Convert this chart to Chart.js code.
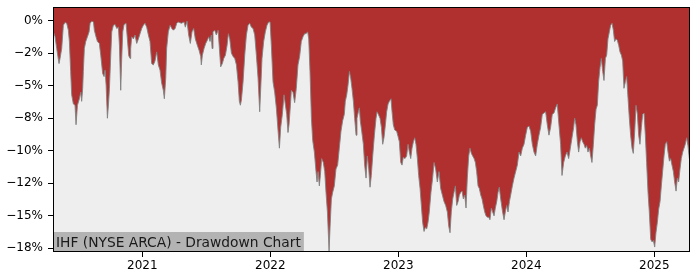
<!DOCTYPE html>
<html>
<head>
<meta charset="utf-8">
<script src="https://cdn.jsdelivr.net/npm/chart.js@4.4.0/dist/chart.umd.min.js"></script>
<style>
  body { margin: 0; background: #fff; }
  #wrap { width: 700px; height: 280px; }
</style>
</head>
<body>
<div id="wrap"><canvas id="canvas" width="700" height="280"></canvas></div>
<script>
// dates as decimal years, drawdown in %
var dates = [
  2020.302, 2020.310, 2020.318, 2020.331, 2020.349, 2020.357, 2020.370, 2020.383, 2020.396, 2020.409,
  2020.422, 2020.430, 2020.440, 2020.448, 2020.461, 2020.474, 2020.482, 2020.493, 2020.508, 2020.519,
  2020.526, 2020.534, 2020.539, 2020.547, 2020.558, 2020.571, 2020.584, 2020.592, 2020.605, 2020.618,
  2020.625, 2020.638, 2020.649, 2020.664, 2020.675, 2020.690, 2020.701, 2020.709, 2020.717, 2020.727,
  2020.735, 2020.743, 2020.753, 2020.761, 2020.774, 2020.787, 2020.800, 2020.813, 2020.821, 2020.831,
  2020.839, 2020.847, 2020.857, 2020.873, 2020.883, 2020.894, 2020.904, 2020.909, 2020.917, 2020.930,
  2020.943, 2020.956, 2020.969, 2020.982, 2020.995, 2021.008, 2021.021, 2021.034, 2021.047, 2021.060,
  2021.073, 2021.086, 2021.099, 2021.112, 2021.125, 2021.138, 2021.151, 2021.164, 2021.172, 2021.183,
  2021.190, 2021.203, 2021.217, 2021.230, 2021.243, 2021.256, 2021.269,
  2021.279, 2021.305, 2021.326, 2021.336, 2021.349, 2021.362, 2021.375, 2021.388, 2021.401, 2021.414,
  2021.430, 2021.443, 2021.456, 2021.461, 2021.469, 2021.482, 2021.495, 2021.508, 2021.519, 2021.529,
  2021.539, 2021.545, 2021.552, 2021.565, 2021.578, 2021.592, 2021.602, 2021.612, 2021.625, 2021.636,
  2021.649, 2021.662, 2021.672, 2021.683, 2021.696, 2021.709, 2021.722, 2021.735, 2021.748, 2021.758,
  2021.766, 2021.774, 2021.787, 2021.800, 2021.813, 2021.826, 2021.839, 2021.852, 2021.865, 2021.878,
  2021.891, 2021.904, 2021.917, 2021.925, 2021.935, 2021.948, 2021.961, 2021.974, 2021.987, 2021.998,
  2022.008, 2022.021, 2022.034, 2022.047, 2022.060, 2022.071, 2022.081, 2022.094, 2022.107, 2022.118,
  2022.128, 2022.138, 2022.146, 2022.157, 2022.164, 2022.177, 2022.190, 2022.203, 2022.216, 2022.229,
  2022.242, 2022.255, 2022.268,
  2022.279, 2022.292, 2022.300, 2022.310, 2022.321, 2022.331, 2022.344, 2022.357, 2022.365, 2022.373,
  2022.383, 2022.391, 2022.401, 2022.414, 2022.425, 2022.435, 2022.446, 2022.453, 2022.459, 2022.467,
  2022.477, 2022.487, 2022.500, 2022.513, 2022.526, 2022.539, 2022.552, 2022.565, 2022.578, 2022.586,
  2022.597, 2022.607, 2022.618, 2022.628, 2022.638, 2022.649, 2022.659, 2022.670, 2022.677, 2022.688,
  2022.696, 2022.703, 2022.714, 2022.727, 2022.737, 2022.748, 2022.758, 2022.769, 2022.779, 2022.789,
  2022.800, 2022.813, 2022.826, 2022.834, 2022.844, 2022.857, 2022.868, 2022.878, 2022.888, 2022.899,
  2022.909, 2022.920, 2022.930, 2022.943, 2022.951, 2022.961, 2022.972, 2022.987, 2022.998, 2023.008,
  2023.019, 2023.029, 2023.039, 2023.052, 2023.065, 2023.076, 2023.086, 2023.097, 2023.107, 2023.118,
  2023.128, 2023.138, 2023.149, 2023.159, 2023.170, 2023.180, 2023.190, 2023.201, 2023.211, 2023.222,
  2023.232, 2023.242, 2023.255, 2023.268,
  2023.279, 2023.292, 2023.305, 2023.318, 2023.331, 2023.344, 2023.357, 2023.370, 2023.383, 2023.394,
  2023.404, 2023.414, 2023.425, 2023.435, 2023.446, 2023.456, 2023.467, 2023.477, 2023.487, 2023.498,
  2023.508, 2023.519, 2023.529, 2023.539, 2023.550, 2023.560, 2023.571, 2023.581, 2023.592, 2023.602,
  2023.612, 2023.623, 2023.633, 2023.644, 2023.654, 2023.664, 2023.675, 2023.685, 2023.696, 2023.706,
  2023.716, 2023.727, 2023.737, 2023.748, 2023.758, 2023.769, 2023.779, 2023.789, 2023.800, 2023.813,
  2023.826, 2023.836, 2023.847, 2023.857, 2023.868, 2023.878, 2023.891, 2023.904, 2023.917, 2023.930,
  2023.943, 2023.956, 2023.969, 2023.982, 2023.995, 2024.008, 2024.021, 2024.034, 2024.047, 2024.060,
  2024.073, 2024.086, 2024.099, 2024.112, 2024.125, 2024.138, 2024.151, 2024.164, 2024.177, 2024.190,
  2024.203, 2024.216, 2024.229, 2024.242, 2024.255, 2024.268,
  2024.279, 2024.292, 2024.305, 2024.318, 2024.331, 2024.344, 2024.357, 2024.370, 2024.378, 2024.388,
  2024.399, 2024.409, 2024.420, 2024.430, 2024.440, 2024.451, 2024.461, 2024.472, 2024.482, 2024.493,
  2024.503, 2024.513, 2024.524, 2024.534, 2024.545, 2024.555, 2024.565, 2024.576, 2024.586, 2024.597,
  2024.607, 2024.618, 2024.628, 2024.638, 2024.649, 2024.659, 2024.670, 2024.680, 2024.690, 2024.701,
  2024.711, 2024.722, 2024.732, 2024.743, 2024.753, 2024.763, 2024.774, 2024.784, 2024.795, 2024.805,
  2024.815, 2024.826, 2024.836, 2024.847, 2024.857, 2024.868, 2024.878, 2024.888, 2024.899, 2024.909,
  2024.920, 2024.930, 2024.940, 2024.951, 2024.961, 2024.972, 2024.982, 2024.993, 2025.003, 2025.013,
  2025.024, 2025.034, 2025.045, 2025.055, 2025.065, 2025.076, 2025.086, 2025.097, 2025.107, 2025.118,
  2025.128, 2025.138, 2025.149, 2025.159, 2025.170, 2025.180, 2025.190, 2025.201, 2025.211, 2025.222,
  2025.232, 2025.242, 2025.253, 2025.263, 2025.274, 2025.279
];

var drawdown = [
  -0.9, -0.99, -1.24, -2.14, -3.3, -2.9, -2.14, -0.35, -0.14, -0.2,
  -0.73, -1.6, -3.9, -5.7, -6.4, -6.5, -8.0, -6.5, -6.0, -5.5,
  -6.2, -5.2, -3.9, -2.14, -1.6, -1.24, -0.86, -0.2, -0.04, -0.1,
  -0.73, -1.24, -1.6, -1.75, -2.65, -4.06, -4.3, -3.8, -4.96, -7.5,
  -6.5, -5.2, -2.7, -0.86, -0.35, -0.3, -0.6, -0.5, -1.9, -5.35,
  -2.9, -0.86, -0.3, -0.2, -1.4, -2.7, -2.9, -2.14, -1.24, -1.4,
  -1.1, -1.75, -1.4, -1.0, -0.6, -0.35, -0.2, -0.5, -1.1, -1.6,
  -3.3, -3.4, -3.1, -2.4, -3.4, -3.8, -4.8, -5.35, -6.0, -4.4,
  -2.14, -0.86, -0.35, -0.6, -0.73, -0.6, -0.2,
  -0.1, -0.2, -0.1, -0.5, -0.04, -1.1, -1.75, -0.86, -0.6, -1.4,
  -1.9, -2.27, -2.75, -3.4, -2.65, -2.14, -1.75, -1.5, -1.24, -1.6,
  -1.1, -2.14, -0.86, -0.73, -1.1, -0.73, -2.14, -3.55, -3.3, -2.9,
  -2.65, -1.9, -1.0, -1.4, -2.5, -2.75, -2.9, -3.4, -4.7, -6.2,
  -6.5, -6.1, -4.7, -2.65, -1.1, -0.35, -0.2, -0.5, -0.6, -1.1,
  -2.65, -4.4, -7.0, -5.2, -2.9, -1.6, -0.86, -0.35, -0.1, -0.1,
  -1.9, -4.7, -5.5, -6.7, -8.4, -9.8, -8.2, -7.2, -5.7, -6.5,
  -7.2, -8.6, -8.0, -6.5, -5.35, -5.5, -6.3, -5.2, -3.4, -2.75,
  -1.6, -1.24, -1.0,
  -1.0, -0.86, -1.4, -3.9, -7.5, -9.2, -10.1, -11.6, -12.4, -11.6,
  -12.7, -11.9, -10.6, -10.9, -11.6, -13.2, -14.7, -16.3, -17.7, -15.8,
  -13.7, -13.2, -12.7, -11.4, -11.1, -9.8, -8.5, -7.7, -7.2, -6.2,
  -5.7, -4.96, -3.9, -4.4, -5.2, -6.2, -7.5, -8.8, -7.5, -7.0,
  -6.7, -7.7, -8.5, -9.5, -11.1, -12.1, -10.4, -11.4, -12.8, -11.9,
  -10.4, -8.8, -7.5, -7.0, -7.2, -7.5, -8.2, -9.5, -9.0, -8.0,
  -7.0, -6.4, -6.2, -6.0, -7.0, -8.0, -8.4, -8.5, -8.9, -9.3,
  -10.9, -11.1, -10.5, -10.6, -10.4, -9.5, -10.1, -10.6, -9.8, -9.3,
  -9.0, -9.5, -10.6, -11.9, -12.9, -14.2, -15.5, -16.2, -15.9, -16.0,
  -15.5, -14.7, -13.2, -12.1,
  -10.9, -11.4, -12.4, -11.6, -12.9, -13.4, -13.9, -14.2, -14.7, -15.8,
  -16.3, -14.7, -13.7, -13.2, -12.7, -14.2, -13.9, -13.4, -13.2, -13.1,
  -13.7, -13.4, -14.4, -12.1, -10.4, -9.8, -10.2, -10.4, -10.6, -10.9,
  -11.6, -12.7, -12.9, -13.4, -13.7, -14.2, -14.7, -15.0, -15.1, -15.1,
  -15.3, -14.4, -14.7, -15.0, -14.4, -13.9, -13.2, -12.8, -13.7, -14.6,
  -15.3, -14.7, -14.2, -14.7, -13.9, -13.4, -12.7, -12.1, -11.6, -11.1,
  -10.1, -10.4, -9.8, -9.5, -8.8, -8.2, -8.1, -8.5, -9.5, -10.1,
  -10.4, -9.5, -8.8, -8.2, -7.2, -7.1, -7.0, -8.0, -8.8, -8.2,
  -7.2, -7.1, -6.7, -6.4, -8.0, -9.5,
  -11.9, -10.9, -10.4, -10.1, -10.6, -9.8, -9.0, -8.2, -7.5, -8.0,
  -9.3, -10.1, -9.3, -9.0, -9.3, -9.5, -9.8, -9.6, -10.1, -9.8,
  -10.4, -10.9, -9.5, -8.0, -6.8, -6.5, -4.7, -3.6, -2.9, -3.9,
  -4.6, -2.9, -2.65, -1.4, -0.86, -0.35, -0.2, -0.73, -1.6, -1.4,
  -1.5, -1.9, -2.4, -2.65, -3.1, -5.2, -4.7, -4.3, -6.0, -7.5,
  -8.8, -9.8, -10.2, -8.5, -6.5, -7.2, -8.8, -9.5, -8.2, -7.2,
  -7.1, -8.8, -10.9, -13.2, -14.7, -16.8, -17.0, -16.9, -17.4, -16.3,
  -15.5, -14.5, -13.9, -12.7, -11.6, -10.4, -9.5, -9.3, -10.1, -10.8,
  -10.6, -11.1, -11.6, -12.4, -13.1, -12.1, -12.4, -11.4, -10.6, -10.1,
  -9.8, -9.5, -9.0, -9.6, -10.6, -10.5
];

var yearTicks = [2021, 2022, 2023, 2024, 2025];
var yearLabels = ['2021', '2022', '2023', '2024', '2025'];
var yTicks = [0, -2.5, -5, -7.5, -10, -12.5, -15, -17.5];
var yLabels = ['0%', '\u22122%', '\u22125%', '\u22128%', '\u221210%', '\u221212%', '\u221215%', '\u221218%'];
var title = 'IHF (NYSE ARCA) - Drawdown Chart';

var points = dates.map(function(d, i) { return { x: d, y: drawdown[i] }; });

var frame = {
  id: 'frame',
  beforeDraw: function(chart) {
    var a = chart.chartArea, ctx = chart.ctx;
    ctx.save();
    ctx.fillStyle = '#eeeeee';
    ctx.fillRect(a.left, a.top, a.right - a.left, a.bottom - a.top);
    ctx.restore();
  },
  afterDraw: function(chart) {
    var a = chart.chartArea, ctx = chart.ctx;
    ctx.save();
    ctx.strokeStyle = '#000';
    ctx.lineWidth = 1;
    ctx.strokeRect(a.left + 0.5, a.top + 0.5, a.right - a.left - 1, a.bottom - a.top - 1);
    // title box, bottom left
    ctx.font = '13.8px "DejaVu Sans"';
    var w = ctx.measureText(title).width;
    ctx.fillStyle = '#b3b3b3';
    ctx.fillRect(a.left + 1, a.bottom - 20, w + 5, 19);
    ctx.fillStyle = '#1a1a1a';
    ctx.textBaseline = 'alphabetic';
    ctx.fillText(title, a.left + 3, a.bottom - 5);
    ctx.restore();
  }
};

var tickFont = { family: 'DejaVu Sans', size: 12 };

function noPad(s) {
  s.paddingTop = 0; s.paddingBottom = 0; s.paddingLeft = 0; s.paddingRight = 0;
}

new Chart(document.getElementById('canvas').getContext('2d'), {
  type: 'line',
  data: {
    datasets: [{
      data: points,
      borderColor: 'rgba(130, 130, 130, 0.9)',
      borderWidth: 1,
      backgroundColor: 'rgb(176, 47, 47)',
      fill: 'end',
      pointRadius: 0,
      tension: 0
    }]
  },
  options: {
    responsive: false,
    animation: false,
    devicePixelRatio: 1,
    layout: { padding: { top: 7, right: 10, left: 0, bottom: 0 } },
    plugins: { legend: { display: false }, tooltip: { enabled: false } },
    scales: {
      x: {
        type: 'linear',
        min: 2020.302,
        max: 2025.279,
        afterBuildTicks: function(s) { s.ticks = yearTicks.map(function(v) { return { value: v }; }); },
        afterFit: function(s) { s.height = 28; noPad(s); },
        ticks: {
          callback: function(v, i) { return yearLabels[i]; },
          font: tickFont, color: '#000', padding: 2, maxRotation: 0, autoSkip: false
        },
        grid: { drawOnChartArea: false, tickLength: 5, tickColor: '#000' },
        border: { display: false }
      },
      y: {
        min: -17.78,
        max: 1.05,
        afterBuildTicks: function(s) { s.ticks = yTicks.map(function(v) { return { value: v }; }); },
        afterFit: function(s) { s.width = 53; noPad(s); },
        ticks: {
          callback: function(v, i) { return yLabels[i]; },
          font: tickFont, color: '#000', padding: 5, autoSkip: false
        },
        grid: { drawOnChartArea: false, tickLength: 5, tickColor: '#000' },
        border: { display: false }
      }
    }
  },
  plugins: [frame]
});
</script>
</body>
</html>
